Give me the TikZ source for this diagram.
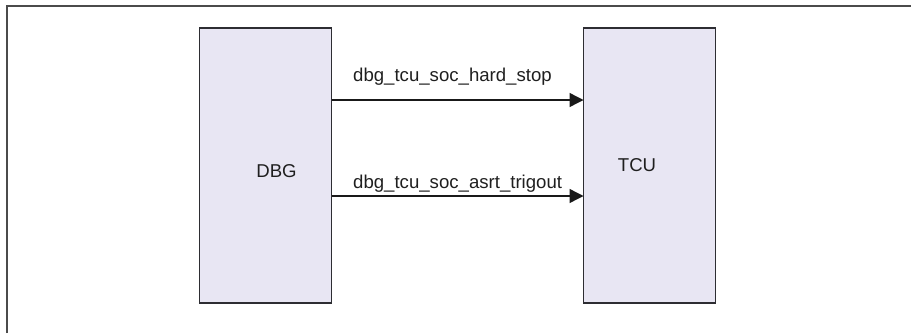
\documentclass[tikz,border=0pt]{standalone}
\usepackage{fontspec}
\setmainfont{Liberation Sans}
\usetikzlibrary{arrows.meta}
\definecolor{boxfill}{RGB}{232,230,243}
\definecolor{boxline}{RGB}{45,45,50}
\definecolor{framec}{RGB}{75,75,75}
\tikzset{
  block/.style={draw=boxline, line width=1.8pt, fill=boxfill},
  sig/.style={draw=black!90, line width=1.4pt, -{Triangle[length=14pt,width=14pt]}},
  lbl/.style={font=\fontsize{18.6pt}{20pt}\selectfont, text=black!88, inner sep=0pt, anchor=base west},
  blbl/.style={font=\fontsize{18.6pt}{20pt}\selectfont, text=black!88, inner sep=0pt}
}
\begin{document}
\begin{tikzpicture}[x=1pt,y=-1pt]
\useasboundingbox (0,0) rectangle (911,333);
\draw[framec, line width=2pt] (7,333) -- (7,6) -- (911,6);
\path[block] (199.5,28) rectangle (331.5,303);
\path[block] (583.5,28) rectangle (715.5,303);
\coordinate (d1) at (331.5,100);
\coordinate (t1) at (583.5,100);
\coordinate (d2) at (331.5,196);
\coordinate (t2) at (583.5,196);
\node[blbl] (dbg) at (276.5,171) {DBG};
\node[blbl] (tcu) at (637,165) {TCU};
\draw[sig] (d1) -- (t1);
\draw[sig] (d2) -- (t2);
\node[lbl] (l1) at (353,81) {dbg\_tcu\_soc\_hard\_stop};
\node[lbl] (l2) at (353,188) {dbg\_tcu\_soc\_asrt\_trigout};
\end{tikzpicture}
\end{document}
